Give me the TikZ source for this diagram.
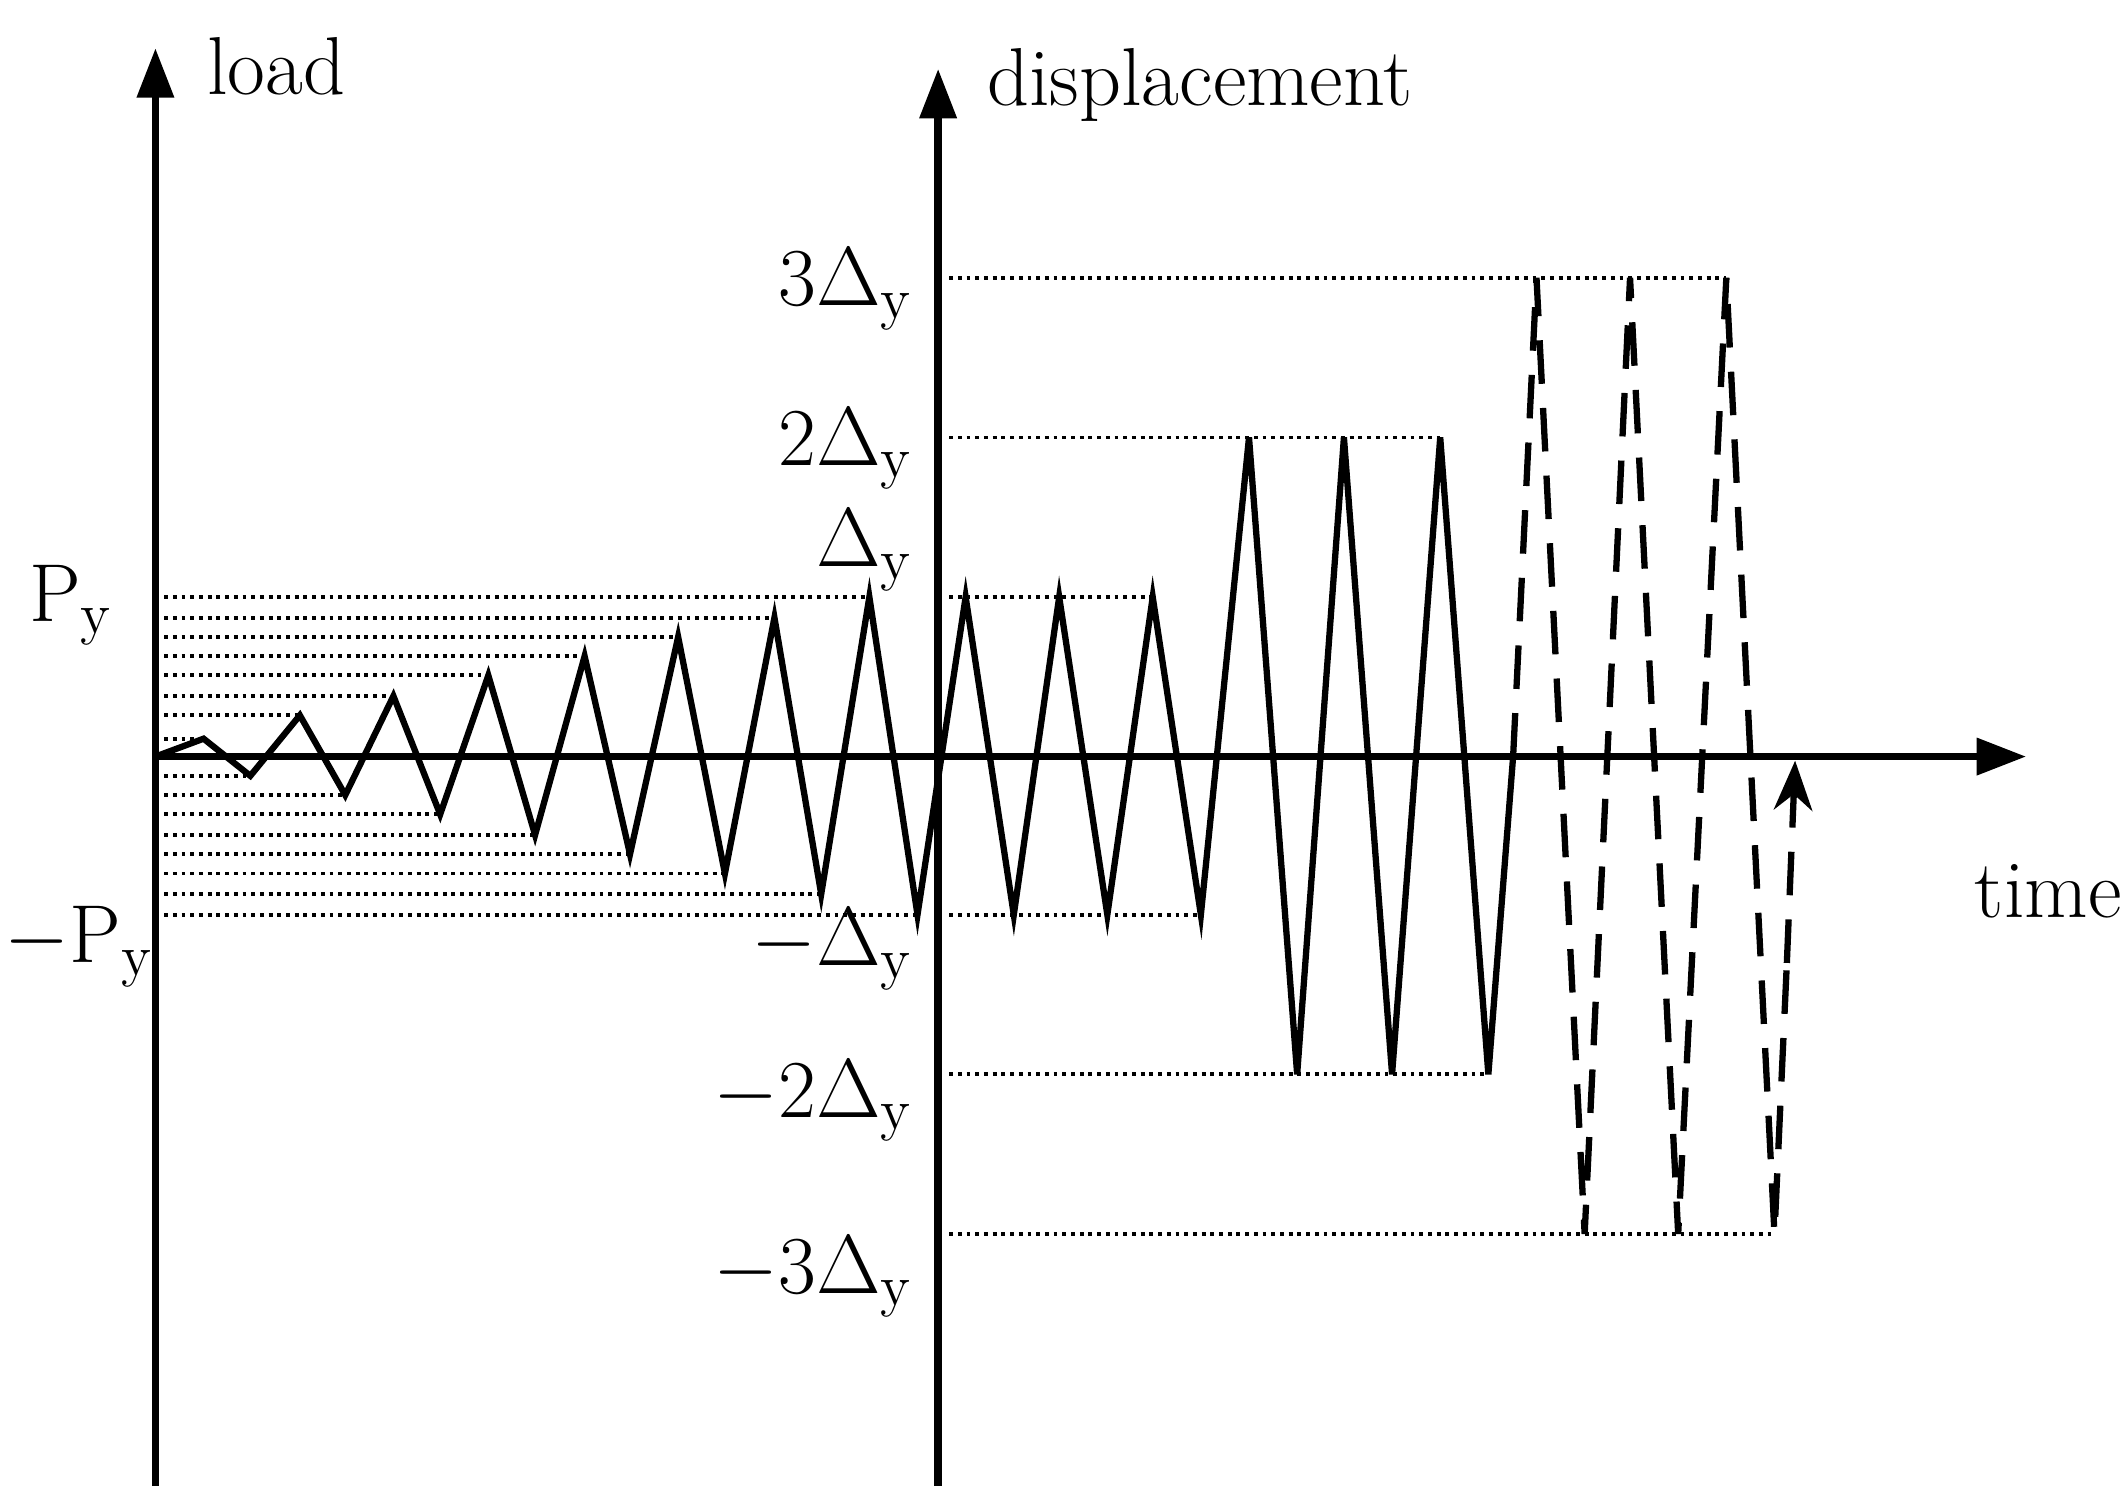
\documentclass[tikz,border=0pt]{standalone}
\usetikzlibrary{arrows.meta}
\begin{document}
\begin{tikzpicture}[x=0.01cm,y=-0.01cm,
  ax/.style={line width=1.6pt,-{Triangle[length=0.36cm,width=0.26cm]}},
  zz/.style={line width=1.3pt,line join=miter},
  dt/.style={densely dotted,line width=0.8pt},
  lab/.style={font=\fontsize{17}{19}\selectfont,inner sep=0pt}]
\useasboundingbox (0,0) rectangle (1547,1090);
% axes
\coordinate (lb) at (113,1080); \coordinate (lt) at (113,35);
\coordinate (mb) at (682,1080); \coordinate (mt) at (682,50);
\coordinate (h0) at (113,550); \coordinate (h1) at (1473,550);
\draw[ax] (lb) -- (lt);
\draw[ax] (mb) -- (mt);
\draw[ax] (h0) -- (h1);
\node[lab,anchor=west] (load) at (150,48) {load};
\node[lab,anchor=west] (disp) at (717,62) {displacement};
\node[lab,anchor=west] (time) at (1435,648) {time};
% dotted lines (load)
\foreach \x/\y in {148/537,182/564,218/520,251/578,286/506,320/592,355/491,389/607,425/477,458/621,493/463,527/635,563/449,597/650,632/434,667/665}
  \draw[dt] (113,\y) -- (\x,\y);
% dotted lines (displacement)
\foreach \x/\y in {838/434,873/665,1047/318,1082/781,1255/202,1290/897}
  \draw[dt] (690,\y) -- (\x,\y);
% zigzag
\draw[zz] (113,550) -- (148,537) -- (182,564) -- (218,520) -- (251,578) -- (286,506) -- (320,592) -- (355,491) -- (389,607) -- (425,477) -- (458,621) -- (493,463) -- (527,635) -- (563,449) -- (597,650) -- (632,434) -- (667,665) -- (702,434) -- (737,665) -- (770,434) -- (805,665) -- (838,434) -- (873,665) -- (908,318) -- (943,781) -- (977,318) -- (1012,781) -- (1047,318) -- (1082,781) -- (1100,550);
\coordinate (tip) at (1305,553);
\draw[zz,dashed,dash pattern=on 9pt off 5pt] (1100,550) -- (1117,202) -- (1152,897) -- (1185,202) -- (1220,897) -- (1255,202) -- (1290,897) -- (1299,700);
\draw[zz,dashed,dash pattern=on 9pt off 5pt,-{Stealth[length=0.36cm,width=0.28cm]}] (1299,700) -- (tip);
% labels
\node[lab] (py) at (52,440) {P$_{\mathrm{y}}$};
\node[lab] (npy) at (58,688) {$-$P$_{\mathrm{y}}$};
\node[lab,anchor=east] (d3) at (665,210) {3$\Delta_{\mathrm{y}}$};
\node[lab,anchor=east] (d2) at (665,326) {2$\Delta_{\mathrm{y}}$};
\node[lab,anchor=east] (d1) at (665,400) {$\Delta_{\mathrm{y}}$};
\node[lab,anchor=east] (n1) at (665,690) {$-\Delta_{\mathrm{y}}$};
\node[lab,anchor=east] (n2) at (665,800) {$-$2$\Delta_{\mathrm{y}}$};
\node[lab,anchor=east] (n3) at (665,928) {$-$3$\Delta_{\mathrm{y}}$};
\end{tikzpicture}
\end{document}
